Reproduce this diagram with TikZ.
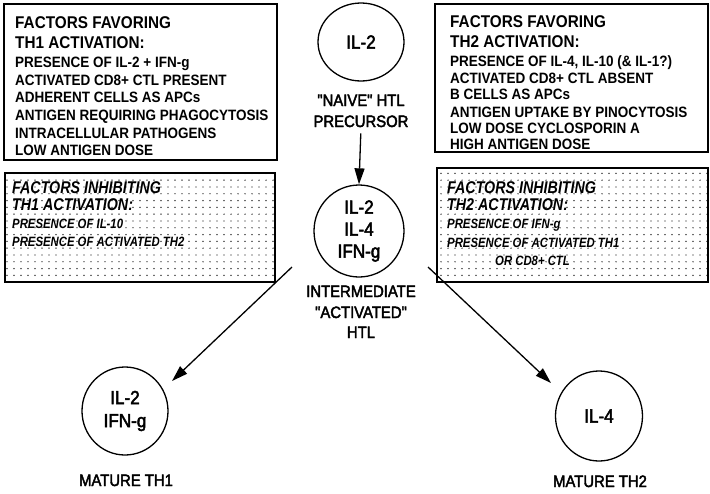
\documentclass[tikz,border=0pt]{standalone}
\usepackage{fontspec}
\setmainfont{Liberation Sans}
\newfontfamily\narrowsans[FakeStretch=0.9]{Liberation Sans}
\newfontfamily\italnarrow[FakeStretch=0.84]{Liberation Sans}
\newfontfamily\labelsans[FakeStretch=0.9,FakeBold=2.5]{Liberation Sans}
\usetikzlibrary{arrows.meta,patterns,shapes.geometric}

% sparse stipple used for the "inhibiting" panels
\pgfdeclarepatternformonly{sparsedots}{\pgfpoint{-1pt}{-1pt}}{\pgfpoint{1pt}{1pt}}{\pgfpoint{7pt}{6.8pt}}%
  {\pgfpathcircle{\pgfpointorigin}{0.7pt}\pgfusepath{fill}}

\begin{document}
\begin{tikzpicture}[x=1pt,y=-1pt,
  panel/.style={draw, line width=1.4pt},
  dotpanel/.style={panel, pattern=sparsedots, pattern color=black},
  head/.style={anchor=base west, inner sep=0pt, font=\narrowsans\bfseries\fontsize{17}{17}\selectfont},
  item/.style={anchor=base west, inner sep=0pt, font=\narrowsans\bfseries\fontsize{15}{15}\selectfont},
  ihead/.style={anchor=base west, inner sep=0pt, font=\italnarrow\bfseries\itshape\fontsize{17}{17}\selectfont},
  iitem/.style={anchor=base west, inner sep=0pt, font=\italnarrow\bfseries\itshape\fontsize{13.5}{13.5}\selectfont},
  cell/.style={draw, ellipse, line width=1.3pt, inner sep=0pt, align=center},
  celltext/.style={font=\labelsans\fontsize{19}{22}\selectfont},
  caption/.style={anchor=base, inner sep=0pt, font=\labelsans\fontsize{16.5}{16.5}\selectfont},
  arr/.style={line width=1.3pt, -{Triangle[length=16pt,width=10pt]}}
]
\useasboundingbox (0,0) rectangle (710,493);

% ---- panels ----
\path[panel] (4,4) rectangle (277,160);
\path[dotpanel] (5,173) rectangle (275,282);
\path[panel] (435,4) rectangle (708,152);
\path[dotpanel] (437,168) rectangle (708,282);

% TH1 favouring
\node[head] (f1a) at (15,28) {FACTORS FAVORING};
\node[head] (f1b) at (15,48) {TH1 ACTIVATION:};
\node[item] (f1c) at (15,67) {PRESENCE OF IL-2 + IFN-g};
\node[item] (f1d) at (15,85) {ACTIVATED CD8+ CTL PRESENT};
\node[item] (f1e) at (15,102.5) {ADHERENT CELLS AS APCs};
\node[item] (f1f) at (15,120.5) {ANTIGEN REQUIRING PHAGOCYTOSIS};
\node[item] (f1g) at (15,138) {INTRACELLULAR PATHOGENS};
\node[item] (f1h) at (15,155) {LOW ANTIGEN DOSE};

% TH1 inhibiting
\node[ihead] (i1a) at (12,193) {FACTORS INHIBITING};
\node[ihead] (i1b) at (12,210.5) {TH1 ACTIVATION:};
\node[iitem] (i1c) at (12,228) {PRESENCE OF IL-10};
\node[iitem] (i1d) at (12,246) {PRESENCE OF ACTIVATED TH2};

% TH2 favouring
\node[head] (f2a) at (450,27) {FACTORS FAVORING};
\node[head] (f2b) at (450,47) {TH2 ACTIVATION:};
\node[item] (f2c) at (450,66) {PRESENCE OF IL-4, IL-10 (\& IL-1?)};
\node[item] (f2d) at (450,83) {ACTIVATED CD8+ CTL ABSENT};
\node[item] (f2e) at (450,99.5) {B CELLS AS APCs};
\node[item] (f2f) at (450,117) {ANTIGEN UPTAKE BY PINOCYTOSIS};
\node[item] (f2g) at (450,133.5) {LOW DOSE CYCLOSPORIN A};
\node[item] (f2h) at (450,149.5) {HIGH ANTIGEN DOSE};

% TH2 inhibiting
\node[ihead] (i2a) at (447,193) {FACTORS INHIBITING};
\node[ihead] (i2b) at (447,210.5) {TH2 ACTIVATION:};
\node[iitem] (i2c) at (447,228) {PRESENCE OF IFN-g};
\node[iitem] (i2d) at (447,247) {PRESENCE OF ACTIVATED TH1};
\node[iitem] (i2e) at (495,265) {OR CD8+ CTL};

% ---- cells ----
\node[cell, minimum width=86pt, minimum height=78pt, celltext] (naive) at (361,42) {IL-2};
\node[caption] (naivelbl) at (361,106) {"NAIVE" HTL};
\node[caption] (precursor) at (361,127) {PRECURSOR};

\node[cell, minimum width=90pt, minimum height=92pt, celltext] (act) at (359,231) {IL-2\\IL-4\\IFN-g};
\node[caption] (actlbla) at (361,297) {INTERMEDIATE};
\node[caption] (actlblb) at (361,318) {"ACTIVATED"};
\node[caption] (actlblc) at (361,338) {HTL};

\node[cell, minimum width=86pt, minimum height=88pt, celltext, font=\labelsans\fontsize{19}{23}\selectfont] (th1) at (125,411) {IL-2\\IFN-g};
\node[caption] (th1lbl) at (126,486) {MATURE TH1};

\node[cell, minimum width=87pt, minimum height=90pt, celltext] (th2) at (599,416) {IL-4};
\node[caption] (th2lbl) at (600,487) {MATURE TH2};

% ---- connectors ----
\draw[arr, shorten <=6pt] (precursor.south) -- (act.north);

\coordinate (leftstart) at (292,267);
\coordinate (lefttip) at (172,381);
\coordinate (rightstart) at (428,267);
\coordinate (righttip) at (551,383);
\draw[arr] (leftstart) -- (lefttip);
\draw[arr] (rightstart) -- (righttip);
\end{tikzpicture}
\end{document}
